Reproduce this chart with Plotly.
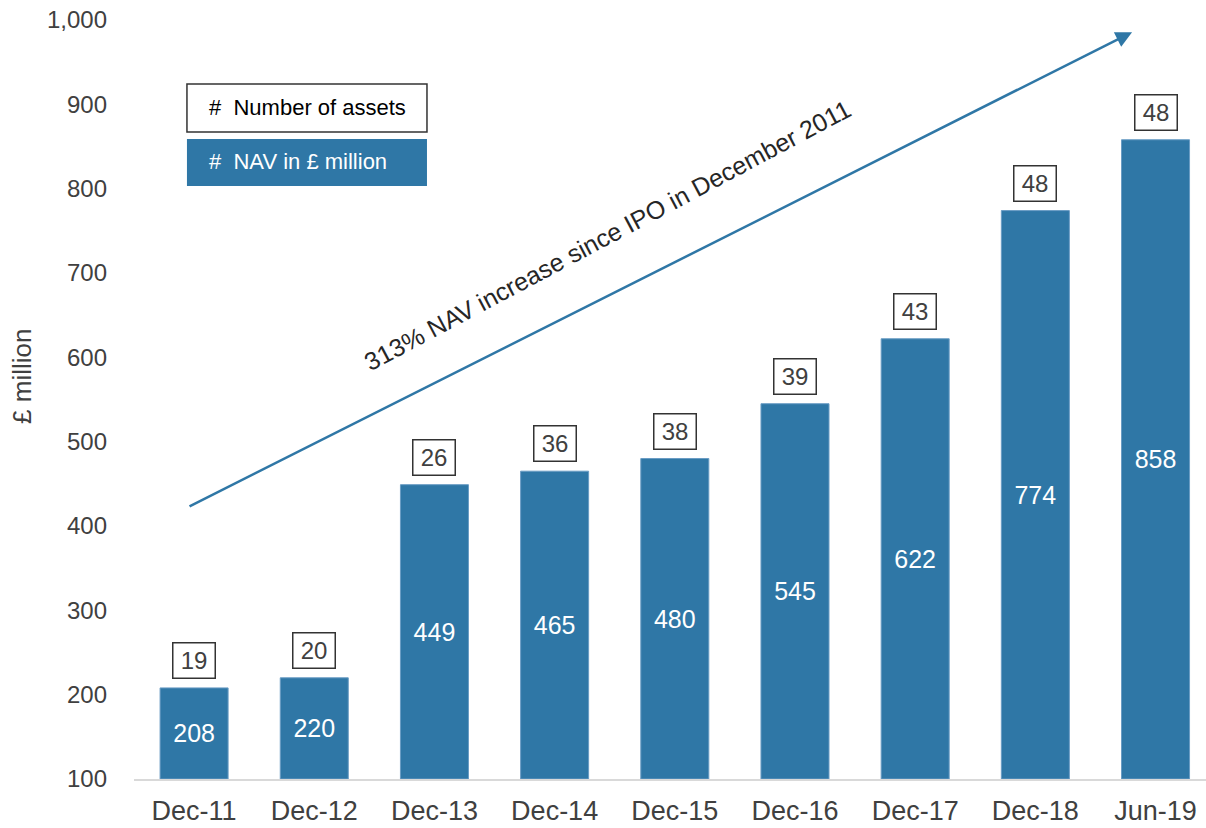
import plotly.graph_objects as go

categories = ["Dec-11", "Dec-12", "Dec-13", "Dec-14", "Dec-15", "Dec-16", "Dec-17", "Dec-18", "Jun-19"]
nav_values = [208, 220, 449, 465, 480, 545, 622, 774, 858]
asset_counts = [19, 20, 26, 36, 38, 39, 43, 48, 48]
y_ticks = [100, 200, 300, 400, 500, 600, 700, 800, 900, 1000]
AXIS_MIN = 100
AXIS_MAX = 1000

BLUE = "#2F77A6"
TEXT = "#404040"
FONT = "Liberation Sans, Arial, sans-serif"

fig = go.Figure()
# Bars start at the axis floor so the in-bar labels are centred in the visible part
fig.add_trace(go.Bar(
    x=categories,
    y=[v - AXIS_MIN for v in nav_values],
    base=AXIS_MIN,
    width=0.566,
    marker=dict(color=BLUE, line=dict(color="#6A9CC4", width=1)),
    text=[str(v) for v in nav_values],
    textposition="inside",
    insidetextanchor="middle",
    textangle=0,
    constraintext="none",
    textfont=dict(family=FONT, size=25, color="white"),
    customdata=nav_values,
    hovertemplate="%{x}: %{customdata}<extra></extra>",
    showlegend=False,
))

annotations = []
for c, v, n in zip(categories, nav_values, asset_counts):
    annotations.append(dict(
        x=c, y=v, xref="x", yref="y", text=str(n), showarrow=False,
        yanchor="bottom", yshift=9, width=34, align="center",
        bordercolor="#333333", borderwidth=1.5, borderpad=3.5, bgcolor="white",
        font=dict(family=FONT, size=24, color=TEXT),
    ))

# Growth arrow
annotations.append(dict(
    xref="paper", yref="paper", x=0.931, y=0.984,
    ax=-944, ay=475, axref="pixel", ayref="pixel",
    showarrow=True, arrowhead=2, arrowsize=1.3, arrowwidth=2.5,
    arrowcolor=BLUE, text="",
))
annotations.append(dict(
    xref="paper", yref="paper", x=0.442, y=0.717,
    xanchor="center", yanchor="middle",
    text="313% NAV increase since IPO in December 2011",
    showarrow=False, textangle=-28,
    font=dict(family=FONT, size=25, color="#262626"),
))

# Axis title
annotations.append(dict(
    xref="paper", yref="paper", x=-0.1045, y=0.531,
    xanchor="center", yanchor="middle",
    text="£ million", showarrow=False, textangle=-90,
    font=dict(family=FONT, size=26, color=TEXT),
))

# Legend-like boxes
shapes = [
    dict(type="rect", xref="paper", yref="paper", x0=0.0494, x1=0.2733, y0=0.8524, y1=0.9157,
         line=dict(color="#333333", width=1.5), fillcolor="white", layer="above"),
    dict(type="rect", xref="paper", yref="paper", x0=0.0494, x1=0.2733, y0=0.7813, y1=0.8432,
         line=dict(color=BLUE, width=0), fillcolor=BLUE, layer="above"),
]
annotations.append(dict(
    xref="paper", yref="paper", x=0.0681, y=0.885, xanchor="left", yanchor="middle",
    text="#  Number of assets", showarrow=False,
    font=dict(family=FONT, size=22, color="black"),
))
annotations.append(dict(
    xref="paper", yref="paper", x=0.0681, y=0.8135, xanchor="left", yanchor="middle",
    text="#  NAV in £ million", showarrow=False,
    font=dict(family=FONT, size=22, color="white"),
))

fig.update_layout(
    width=1206, height=828,
    margin=dict(l=134, r=0, t=20, b=49),
    paper_bgcolor="white", plot_bgcolor="white",
    font=dict(family=FONT, color=TEXT),
    annotations=annotations,
    shapes=shapes,
    xaxis=dict(
        range=[-0.5, 8.42],
        showgrid=False, showline=True, linecolor="#D9D9D9", linewidth=2,
        ticks="", tickfont=dict(family=FONT, size=27, color=TEXT),
        ticklabelstandoff=7,
    ),
    yaxis=dict(
        range=[AXIS_MIN, AXIS_MAX], tickvals=y_ticks, tickformat=",d",
        showgrid=False, showline=False, zeroline=False, ticks="",
        tickfont=dict(family=FONT, size=24, color=TEXT),
        ticklabelstandoff=26,
    ),
)

fig.write_html("out.html")
